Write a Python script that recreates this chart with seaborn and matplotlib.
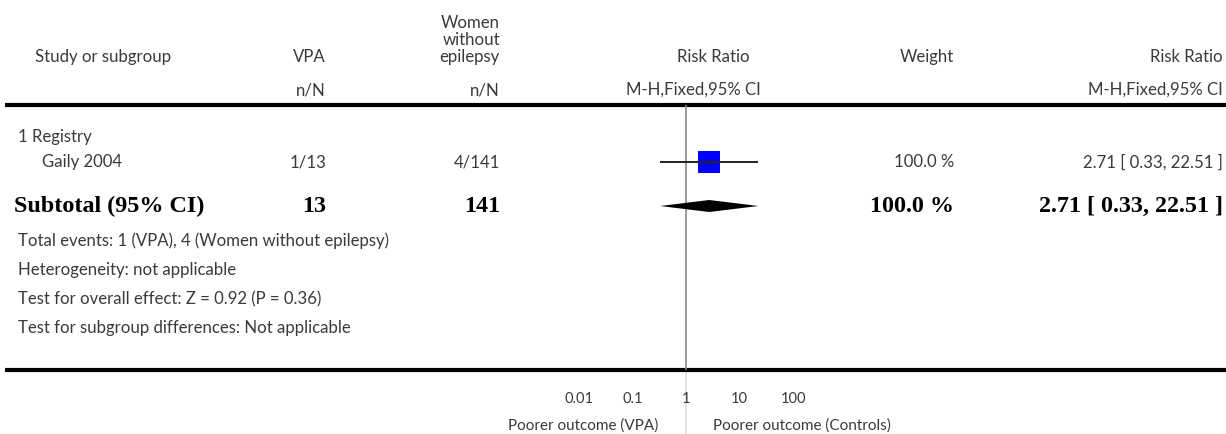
import numpy as np
import pandas as pd
import matplotlib
matplotlib.use("Agg")
import matplotlib.pyplot as plt
import seaborn as sns

# ---- data ----
studies = ["Gaily 2004"]
vpa_events = [1]
vpa_total = [13]
ctl_events = [4]
ctl_total = [141]
rr = [2.71]
rr_lo = [0.33]
rr_hi = [22.51]
weights = [100.0]

pooled_rr = 2.71
pooled_lo = 0.33
pooled_hi = 22.51
pooled_weight = 100.0

tick_values = [0.01, 0.1, 1, 10, 100]
tick_labels = ["0.01", "0.1", "1", "10", "100"]

footer_lines = [
    "Total events: 1 (VPA), 4 (Women without epilepsy)",
    "Heterogeneity: not applicable",
    "Test for overall effect: Z = 0.92 (P = 0.36)",
    "Test for subgroup differences: Not applicable",
]

# ---- figure ----
W, H = 1226, 434
DPI = 100
sns.set_theme(style="white")
plt.rcParams["font.family"] = ["Lato", "DejaVu Sans"]

fig = plt.figure(figsize=(W / DPI, H / DPI), dpi=DPI)

# canvas axes in pixel units for the table text
bg = fig.add_axes([0, 0, 1, 1], zorder=0)
bg.set_xlim(0, W)
bg.set_ylim(H, 0)
bg.axis("off")

TXT = "#3a3a3a"
LIGHT = dict(color=TXT, fontsize=12.1, fontweight="normal")
BOLD = dict(color="black", fontsize=17.4, fontweight="bold",
            family=["Liberation Serif", "DejaVu Serif"])

# forest panel: log scale, 1 decade ~ 53.5 px, null line at x=686
dec = 53.5
x_one = 686
ax_l, ax_r = x_one - 3 * dec, x_one + 3 * dec
ax_top, ax_bot = 105, 370
ax = fig.add_axes([ax_l / W, 1 - ax_bot / H, (ax_r - ax_l) / W, (ax_bot - ax_top) / H],
                  zorder=2)
ax.patch.set_alpha(0)
ax.set_xscale("log")
ax.set_xlim(1e-3, 1e3)
ax.set_ylim(ax_bot, ax_top)
for s in ax.spines.values():
    s.set_visible(False)

# header
bg.text(35, 57, "Study or subgroup", ha="left", va="center", **LIGHT)
bg.text(326, 57, "VPA", ha="right", va="center", **LIGHT)
for yy, t in zip([23, 40, 57], ["Women", "without", "epilepsy"]):
    bg.text(500, yy, t, ha="right", va="center", **LIGHT)
bg.text(750, 57, "Risk Ratio", ha="right", va="center", **LIGHT)
bg.text(954, 57, "Weight", ha="right", va="center", **LIGHT)
bg.text(1223, 57, "Risk Ratio", ha="right", va="center", **LIGHT)
bg.text(326, 90, "n/N", ha="right", va="center", **LIGHT)
bg.text(500, 90, "n/N", ha="right", va="center", **LIGHT)
bg.text(761, 90, "M-H,Fixed,95% CI", ha="right", va="center", **LIGHT)
bg.text(1223, 90, "M-H,Fixed,95% CI", ha="right", va="center", **LIGHT)
bg.plot([5, W], [105, 105], color="black", lw=3, solid_capstyle="butt")

# subgroup + study rows
bg.text(18, 137, "1 Registry", ha="left", va="center", **LIGHT)
row_y = [162]
for i, name in enumerate(studies):
    y = row_y[i]
    bg.text(42, y, name, ha="left", va="center", **LIGHT)
    bg.text(326, y, f"{vpa_events[i]}/{vpa_total[i]}", ha="right", va="center", **LIGHT)
    bg.text(500, y, f"{ctl_events[i]}/{ctl_total[i]}", ha="right", va="center", **LIGHT)
    bg.text(954, y, f"{weights[i]:.1f} %", ha="right", va="center", **LIGHT)
    bg.text(1223, y, f"{rr[i]:.2f} [ {rr_lo[i]:.2f}, {rr_hi[i]:.2f} ]",
            ha="right", va="center", **LIGHT)

# subtotal row
sub_y = 206
bg.text(14, sub_y, "Subtotal (95% CI)", ha="left", va="center", **BOLD)
bg.text(326, sub_y, f"{sum(vpa_total)}", ha="right", va="center", **BOLD)
bg.text(500, sub_y, f"{sum(ctl_total)}", ha="right", va="center", **BOLD)
bg.text(954, sub_y, f"{pooled_weight:.1f} %", ha="right", va="center", **BOLD)
bg.text(1223, sub_y, f"{pooled_rr:.2f} [ {pooled_lo:.2f}, {pooled_hi:.2f} ]",
        ha="right", va="center", **BOLD)

for yy, t in zip([241, 270, 299, 328], footer_lines):
    bg.text(18, yy, t, ha="left", va="center", **LIGHT)

# forest marks
ax.vlines(1, ax_top, ax_bot, color="#8a8a8a", lw=1.2, zorder=1)
bg.plot([x_one, x_one], [ax_bot, H], color="#dedede", lw=1.2, zorder=0)

df = pd.DataFrame({"study": studies, "rr": rr, "lo": rr_lo, "hi": rr_hi,
                   "weight": weights, "y": row_y})
sns.scatterplot(data=df, x="rr", y="y", marker="s", s=df["weight"] * 2.5,
                color="#0000ff", edgecolor="none", linewidth=0, ax=ax,
                legend=False, zorder=3)
ax.hlines(df["y"], df["lo"], df["hi"], color="#222222", lw=1.4, zorder=4)
ax.vlines(df["rr"], df["y"] - 2.5, df["y"] + 2.5, color="#222222", lw=1.0, zorder=4)

half = 6
ax.fill([pooled_lo, pooled_rr, pooled_hi, pooled_rr],
        [sub_y, sub_y - half, sub_y, sub_y + half], color="black", lw=0, zorder=4)

# bottom axis
bg.plot([5, W], [ax_bot, ax_bot], color="black", lw=3, solid_capstyle="butt", zorder=1)
ax.set_xticks(tick_values)
ax.set_xticklabels(tick_labels)
ax.minorticks_off()
ax.set_yticks([])
ax.set_xlabel("")
ax.set_ylabel("")
ax.tick_params(axis="x", which="major", direction="in", length=5, width=2.5,
               color="black", pad=16, labelsize=10.5, labelcolor=TXT)
bg.text(658, 426, "Poorer outcome (VPA)", ha="right", va="center",
        color=TXT, fontsize=11)
bg.text(713, 426, "Poorer outcome (Controls)", ha="left", va="center",
        color=TXT, fontsize=11)

fig.savefig("out.png", dpi=DPI)
